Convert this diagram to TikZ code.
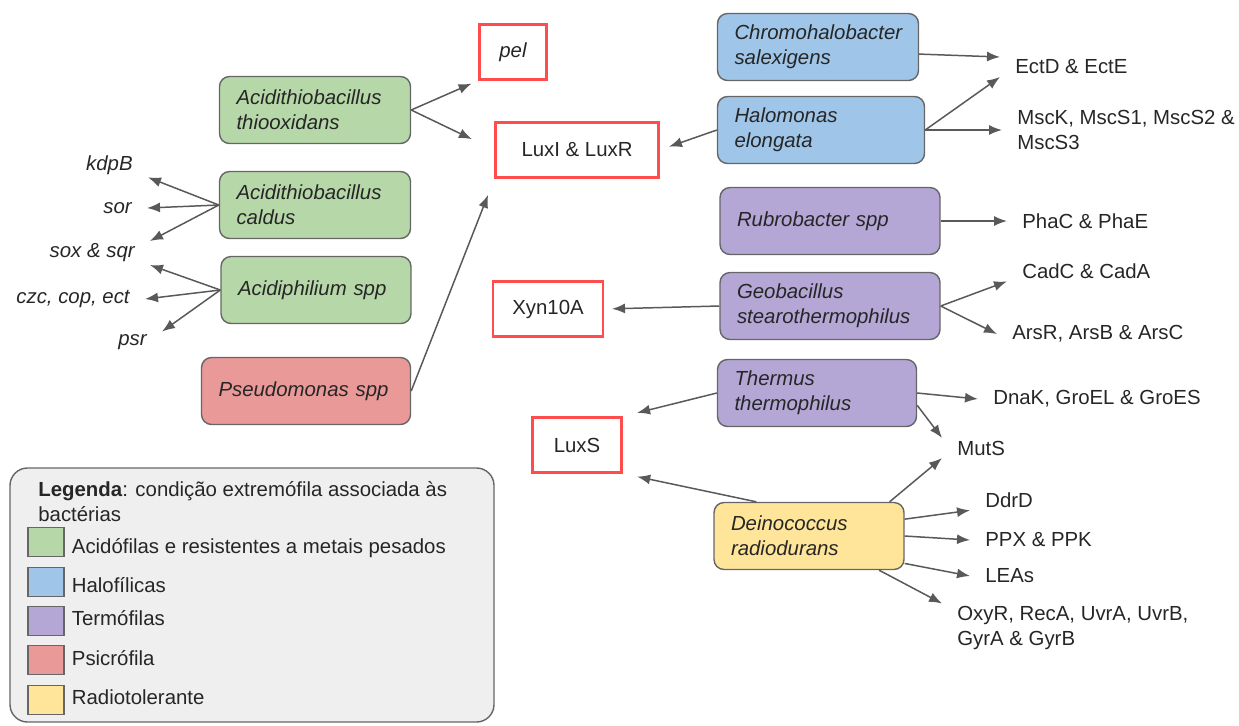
\documentclass[tikz,border=0pt]{standalone}
\usepackage{fontspec}
\setmainfont{Liberation Sans}
\usepackage{tikz}
\usetikzlibrary{positioning,arrows.meta}

\definecolor{acidgreen}{HTML}{B6D7A8}
\definecolor{haloblue}{HTML}{9FC5E8}
\definecolor{thermpurple}{HTML}{B4A7D6}
\definecolor{psyred}{HTML}{EA9999}
\definecolor{radyellow}{HTML}{FFE599}
\definecolor{edgegray}{HTML}{666666}
\definecolor{arrowgray}{HTML}{595959}
\definecolor{genered}{HTML}{FF4D4D}
\definecolor{legendfill}{HTML}{EFEFEF}
\newcommand{\figfont}{\fontsize{11.6}{14.2}\selectfont}

\begin{document}
\begin{tikzpicture}[
x=0.02cm, y=-0.02cm,
every node/.style={font=\figfont, text=black!85},
bact/.style={draw=edgegray, line width=0.8pt, rounded corners=0.2cm, minimum height=1.34cm, inner xsep=0.34cm, align=left, font=\figfont\itshape},
genebox/.style={draw=genered, line width=1.2pt, minimum height=1.1cm},
genelbl/.style={inner xsep=0.3cm, inner ysep=0.05cm, align=left},
legsq/.style={draw=edgegray, line width=0.8pt, minimum width=0.72cm, minimum height=0.58cm, inner sep=0pt},
arr/.style={->, draw=arrowgray, line width=0.85pt},
>={Latex[length=2.6mm,width=2mm]}
]
\useasboundingbox (0,0) rectangle (1239,725);
\clip (0,0) rectangle (1239,725);

% gene / product boxes
\node (pel) [genebox, minimum width=1.34cm, font=\figfont\itshape] at (513,52) {pel};
\node (luxir) [genebox, minimum width=3.26cm] at (577,150) {LuxI \& LuxR};
\node (xyn) [genebox, minimum width=2.2cm] at (548,309) {Xyn10A};
\node (luxs) [genebox, minimum width=1.78cm] at (577,445) {LuxS};

% bacteria
\node (thio) [bact, fill=acidgreen, text width=3.14cm] at (315,110) {Acidithiobacillus\\thiooxidans};
\node (caldus) [bact, fill=acidgreen, text width=3.14cm] at (315,205) {Acidithiobacillus\\caldus};
\node (acidi) [bact, fill=acidgreen, text width=3.12cm] at (316,290) {Acidiphilium spp};
\node (pseudo) [bact, fill=psyred, text width=3.50cm] at (306,391) {Pseudomonas spp};
\node (chromo) [bact, fill=haloblue, text width=3.34cm] at (818,47) {Chromohalobacter\\salexigens};
\node (halo) [bact, fill=haloblue, text width=3.46cm] at (821,130) {Halomonas\\elongata};
\node (rubro) [bact, fill=thermpurple, text width=3.72cm] at (830,221) {Rubrobacter spp};
\node (geo) [bact, fill=thermpurple, text width=3.72cm] at (830,306) {Geobacillus\\stearothermophilus};
\node (thermus) [bact, fill=thermpurple, text width=3.30cm] at (817,393) {Thermus\\thermophilus};
\node (deino) [bact, fill=radyellow, text width=3.12cm] at (809,536) {Deinococcus\\radiodurans};

% genes on the left
\node (kdpb) [genelbl, anchor=east, font=\figfont\itshape] at (148,165) {kdpB};
\node (sor) [genelbl, anchor=east, font=\figfont\itshape] at (147,208) {sor};
\node (soxsqr) [genelbl, anchor=east, font=\figfont\itshape] at (150,253) {sox \& sqr};
\node (czc) [genelbl, anchor=east, font=\figfont\itshape] at (145,299) {czc, cop, ect};
\node (psr) [genelbl, anchor=east, font=\figfont\itshape] at (162,342) {psr};

% genes on the right
\node (ectde) [genelbl, anchor=west] at (1000,67) {EctD \& EctE};
\node (msc) [genelbl, anchor=west] at (1002,130) {MscK, MscS1, MscS2 \&\\MscS3};
\node (phac) [genelbl, anchor=west] at (1007,221) {PhaC \& PhaE};
\node (cadc) [genelbl, anchor=west] at (1007,271) {CadC \& CadA};
\node (arsr) [genelbl, anchor=west] at (997,334) {ArsR, ArsB \& ArsC};
\node (dnak) [genelbl, anchor=west] at (978,399) {DnaK, GroEL \& GroES};
\node (muts) [genelbl, anchor=west] at (942,448) {MutS};
\node (ddrd) [genelbl, anchor=west] at (970,500) {DdrD};
\node (ppx) [genelbl, anchor=west] at (970,540) {PPX \& PPK};
\node (leas) [genelbl, anchor=west] at (970,576) {LEAs};
\node (oxyr) [genelbl, anchor=west] at (942,628) {OxyR, RecA, UvrA, UvrB,\\GyrA \& GyrB};

% connectors
\draw[arr, shorten >=0.15cm] (thio.east) -- (pel.south west);
\draw[arr, shorten >=0.5cm] (thio.east) -- (luxir.west);
\draw[arr, shorten >=0.35cm] (pseudo.east) -- (luxir.south west);
\draw[arr] (caldus.west) -- (kdpb.south east);
\draw[arr] (caldus.west) -- (sor.east);
\draw[arr] (caldus.west) -- (soxsqr.north east);
\draw[arr] (acidi.west) -- (soxsqr.south east);
\draw[arr] (acidi.west) -- (czc.east);
\draw[arr] (acidi.west) -- (psr.north east);
\draw[arr, shorten >=0.2cm] (halo.west) -- (luxir.east);
\draw[arr] (chromo.-4) -- (ectde.north west);
\draw[arr] (halo.east) -- (ectde.south west);
\draw[arr] (halo.east) -- (msc.west);
\draw[arr] (rubro.east) -- (phac.west);
\draw[arr] (geo.east) -- (cadc.south west);
\draw[arr] (geo.east) -- (arsr.west);
\draw[arr, shorten >=0.16cm] (geo.west) -- (xyn.east);
\draw[arr, shorten >=0.3cm] (thermus.west) -- (luxs.north east);
\draw[arr] (thermus.east) -- (dnak.west);
\draw[arr] (thermus.-7) -- (muts.north west);
\draw[arr, shorten >=0.3cm] (deino.147) -- (luxs.south east);
\draw[arr] (deino.23) -- (muts.south west);
\draw[arr] (deino.10) -- (ddrd.south west);
\draw[arr] (deino.east) -- (ppx.west);
\draw[arr] (deino.-16) -- (leas.west);
\draw[arr] (deino.-26) -- (oxyr.north west);

% legend
\draw[draw=edgegray, fill=legendfill, line width=0.8pt, rounded corners=0.35cm] (10,468) rectangle (494,722);
\node (legtitle) [anchor=north west, align=left, inner sep=0pt] at (38,481) {\textbf{Legenda}: condição extremófila associada às\\bactérias};
\node (sqacid) [legsq, fill=acidgreen] at (46,542) {};
\node (sqhalo) [legsq, fill=haloblue] at (46,582) {};
\node (sqterm) [legsq, fill=thermpurple] at (46,621) {};
\node (sqpsy) [legsq, fill=psyred] at (46,660) {};
\node (sqrad) [legsq, fill=radyellow] at (46,700) {};
\node (txacid) [right=0.02cm of sqacid, yshift=-0.12cm] {Acidófilas e resistentes a metais pesados};
\node (txhalo) [right=0.02cm of sqhalo, yshift=-0.06cm] {Halofílicas};
\node (txterm) [right=0.02cm of sqterm, yshift=0.06cm] {Termófilas};
\node (txpsy) [right=0.02cm of sqpsy, yshift=0.04cm] {Psicrófila};
\node (txrad) [right=0.02cm of sqrad, yshift=0.06cm] {Radiotolerante};

\end{tikzpicture}
\end{document}
